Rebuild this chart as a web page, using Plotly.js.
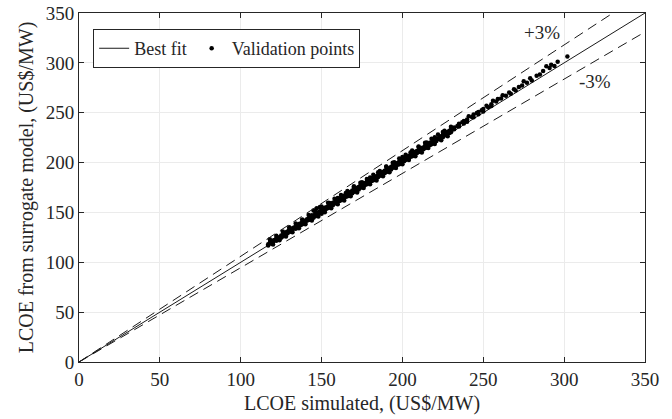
<!DOCTYPE html>
<html><head><meta charset="utf-8">
<script src="https://cdn.plot.ly/plotly-3.0.1.min.js"></script>
<style>html,body{margin:0;padding:0;background:#fff}#chart{width:672px;height:419px}</style>
</head><body><div id="chart"></div>
<script>
// Best-fit and +/- band lines (endpoints)
const lineX = [0, 350];
const fitY = [0, 350];
const upperY = [0, 371];
const lowerY = [0, 331];

// Validation points: LCOE simulated (x) vs surrogate (y)
const simulated = [
117,117,118,119,119,120,120,121,122,122,123,123,124,125,125,126,126,127,128,128,129,129,130,130,131,131,132,132,133,134,134,135,135,136,136,137,137,138,138,139,139,140,140,141,141,142,142,143,143,144,144,145,145,145,146,146,147,147,148,148,149,149,150,150,150,
151,151,152,152,153,153,154,154,155,155,155,156,156,157,157,158,158,159,159,160,160,160,161,161,162,162,163,163,164,164,165,165,165,166,166,167,167,168,168,169,169,170,170,170,171,171,172,172,173,173,174,174,175,175,175,176,176,177,177,178,178,179,179,180,180,180,181,181,182,182,183,183,184,184,185,185,185,186,186,187,187,188,188,189,189,190,190,190,191,191,192,192,193,193,194,194,195,195,195,196,196,197,197,198,198,199,199,200,200,200,201,201,202,202,203,203,204,204,205,205,205,206,206,207,207,208,208,209,209,210,210,210,211,211,212,212,213,213,214,214,215,215,215,216,216,217,217,218,218,219,219,220,220,220,221,221,222,223,223,224,225,225,225,226,227,227,228,229,229,230,230,
232,232,234,235,235,237,238,238,240,240,241,243,244,244,246,247,247,249,250,250,252,253,255,255,256,258,259,261,262,264,266,267,269,270,272,274,275,277,279,280,
283,285,287,289,291,292,294,296,302,
118,120,122,124,126,128,130,132,134,136,138,140,142,144,146,148,150,152,154,156,158,160,162,164,166,168,170,172,174,176,178,180,182,184,186,188,190,192,194,196,198,200,202,204,206,208,210,212,214,216,218,220,222,224,226,228,230];
const surrogate = [
118.2,116.9,119.5,120.1,118.6,121.8,119.9,122.4,121.7,124.0,124.6,122.8,125.1,126.9,124.7,127.3,125.8,128.9,127.6,130.2,130.8,129.1,131.4,132.9,130.7,133.1,134.2,132.5,134.8,135.9,133.6,137.2,135.4,136.8,138.5,138.9,137.1,140.3,138.2,140.6,142.0,141.2,139.5,143.1,141.8,144.0,142.4,145.6,143.3,145.1,147.2,146.3,144.6,152.0,148.4,146.2,149.0,154.3,150.1,147.9,151.2,155.4,152.5,150.3,148.8,
153.0,151.4,154.6,152.2,155.1,153.8,156.3,154.5,157.8,155.2,159.4,158.1,156.6,159.7,157.3,160.2,158.9,161.6,159.4,162.8,160.7,164.5,163.2,161.5,164.9,162.3,165.4,163.6,166.7,164.2,167.9,165.8,169.6,168.3,166.1,169.8,167.4,170.5,168.6,171.9,169.2,172.6,170.8,175.0,173.4,171.3,174.8,172.5,175.6,173.1,176.9,174.7,177.5,175.4,180.2,178.7,176.3,179.4,177.8,180.9,178.2,181.6,179.5,182.3,180.4,185.1,183.8,181.6,184.5,182.2,185.9,183.7,186.2,184.1,187.8,185.5,190.3,188.4,186.9,189.7,187.3,190.6,188.8,191.9,189.2,192.5,190.6,195.8,193.8,191.4,194.3,192.7,195.9,193.1,196.6,194.8,197.2,195.3,200.4,198.9,196.5,199.5,197.8,200.8,198.4,201.3,199.6,202.9,200.7,205.6,203.4,201.2,204.8,202.5,205.2,203.9,206.7,204.3,207.5,205.8,210.2,208.9,206.4,209.3,207.6,210.8,208.2,211.6,209.7,212.4,210.5,215.7,213.9,211.3,214.5,212.8,215.2,213.4,216.8,214.6,217.3,215.2,220.1,218.6,216.9,219.9,217.5,220.4,218.3,221.7,219.8,222.5,220.4,225.3,223.8,221.6,224.2,225.9,223.5,226.4,227.8,225.3,230.6,228.5,229.9,227.4,230.6,231.8,229.6,232.9,230.5,
235.1,233.4,236.8,238.9,236.2,240.5,241.7,239.1,243.2,241.0,246.5,245.8,248.3,245.4,249.6,250.8,248.5,252.4,253.7,251.2,256.9,255.6,258.4,256.7,262.0,261.3,263.8,264.2,267.5,267.1,270.3,268.9,273.5,272.4,275.8,277.2,281.5,280.1,284.6,282.3,
287.0,288.4,291.9,296.5,294.8,298.2,296.9,301.0,306.5,
123.0,117.8,126.5,122.0,130.8,125.9,135.1,130.0,138.9,134.2,143.0,138.1,147.3,142.0,151.4,145.9,156.0,150.1,159.6,154.3,163.8,158.2,167.4,162.0,171.5,166.3,176.2,170.1,179.8,174.4,183.6,178.3,187.9,182.1,191.6,186.2,196.1,190.3,199.9,194.5,204.2,198.4,207.8,202.6,212.1,206.3,216.0,210.2,219.9,214.7,223.8,218.5,228.1,222.4,231.9,226.3,236.0];

const tickVals = [0,50,100,150,200,250,300,350];
const serif = "'Liberation Serif', 'Times New Roman', Times, serif";
const ink = '#262626';

const traces = [
  {x: lineX, y: fitY, mode: 'lines', name: 'Best fit', line: {color: '#1a1a1a', width: 1}},
  {x: simulated, y: surrogate, mode: 'markers', name: 'Validation points', marker: {color: '#000', size: 4.5}},
  {x: lineX, y: upperY, mode: 'lines', showlegend: false, line: {color: '#1a1a1a', width: 1, dash: '10px,6px'}},
  {x: lineX, y: lowerY, mode: 'lines', showlegend: false, line: {color: '#1a1a1a', width: 1, dash: '10px,6px'}}
];

const axisCommon = {
  range: [0, 350], tickvals: tickVals, ticks: 'inside', ticklen: 5, tickcolor: ink,
  showline: true, linecolor: ink, linewidth: 1, mirror: 'ticks',
  showgrid: true, gridcolor: '#ebebeb', gridwidth: 1, zeroline: false,
  tickfont: {family: serif, size: 19, color: ink}
};

const layout = {
  width: 672, height: 419,
  margin: {l: 79, r: 27, t: 13, b: 57},
  paper_bgcolor: '#fff', plot_bgcolor: '#fff',
  font: {family: serif, color: ink},
  xaxis: Object.assign({}, axisCommon, {title: {text: 'LCOE simulated, (US$/MW)', font: {family: serif, size: 20, color: ink}, standoff: 7}}),
  yaxis: Object.assign({}, axisCommon, {title: {text: 'LCOE from surrogate model, (US$/MW)', font: {family: serif, size: 20, color: ink}, standoff: 6}}),
  showlegend: true,
  legend: {x: 0.025, y: 0.954, xanchor: 'left', yanchor: 'top', orientation: 'h',
    bgcolor: '#fff', bordercolor: ink, borderwidth: 1,
    font: {family: serif, size: 18, color: ink}, traceorder: 'normal'},
  annotations: [
    {x: 286, y: 330, text: '+3%', showarrow: false, font: {family: serif, size: 19, color: ink}},
    {x: 319, y: 281, text: '-3%', showarrow: false, font: {family: serif, size: 19, color: ink}}
  ]
};

Plotly.newPlot('chart', traces, layout, {staticPlot: true, displayModeBar: false});
</script></body></html>
